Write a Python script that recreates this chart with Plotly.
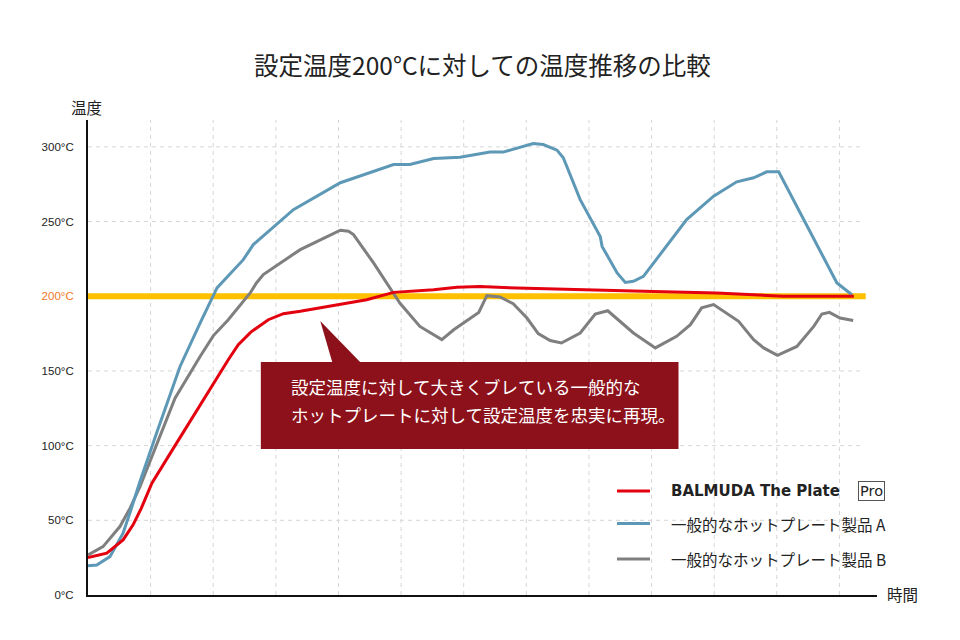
import plotly.graph_objects as go

# ---- data (x in time-grid units, y in °C) ----
red_x = [0, 0.30, 0.56, 0.72, 0.85, 1.02, 1.36, 1.90, 2.24, 2.40, 2.60, 2.88, 3.12, 3.39, 4.03, 4.45, 4.88, 5.52, 5.89, 6.26, 6.85, 7.38, 8.18, 8.87, 10.04, 11.1, 12.23]
red_y = [25, 28, 36.9, 47, 58, 74.9, 98, 135, 157.5, 167.6, 176, 184.3, 188.3, 190, 194.4, 197.7, 202.6, 204.4, 206, 206.6, 205.5, 204.9, 203.8, 203.3, 202.2, 200, 200]

blue_x = [0, 0.14, 0.35, 0.56, 0.67, 0.83, 1.10, 1.47, 1.79, 2.06, 2.48, 2.64, 3.28, 4.03, 4.88, 5.14, 5.52, 5.94, 6.42, 6.63, 7.11, 7.27, 7.49, 7.59, 7.86, 8.18, 8.21, 8.45, 8.58, 8.71, 8.87, 9.56, 9.99, 10.36, 10.63, 10.84, 11.03, 11.96, 12.2]
blue_y = [19.6, 20.1, 25.7, 41.4, 55, 76, 109, 153, 182, 205.6, 224.5, 234.6, 258, 276, 288.2, 288.2, 292.2, 293.1, 296.5, 296.5, 302.3, 301.6, 297.8, 292.7, 264.7, 240, 233.4, 215.6, 209.3, 210, 213.3, 251.3, 267, 276.6, 279.3, 283.3, 283.3, 208.9, 201]

gray_x = [0, 0.24, 0.51, 0.67, 0.83, 1.39, 1.79, 2.0, 2.24, 2.59, 2.69, 2.80, 3.15, 3.39, 3.81, 4.03, 4.16, 4.24, 4.56, 4.98, 5.30, 5.65, 5.84, 6.24, 6.37, 6.58, 6.79, 7.01, 7.19, 7.38, 7.56, 7.86, 8.10, 8.30, 8.71, 9.06, 9.40, 9.62, 9.80, 9.99, 10.39, 10.63, 10.79, 11.01, 11.32, 11.59, 11.72, 11.84, 12.01, 12.22]
gray_y = [26.8, 32.4, 45.8, 58, 72.6, 131.8, 159.7, 173.5, 184.3, 202.2, 208.9, 214.5, 224.5, 231.2, 239.8, 244.2, 243.5, 241.3, 222.3, 195.5, 179.8, 171, 177.6, 189.2, 200.4, 199.5, 195, 185.4, 175, 170.4, 168.7, 175.4, 188.1, 190.3, 175.4, 165.4, 173.2, 181, 192.2, 194.4, 183.2, 170.9, 165.4, 160.4, 166.4, 179.8, 188.1, 189.2, 185.4, 183.8]

setpoint = 200
y_ticks = [0, 50, 100, 150, 200, 250, 300]
x_grid = list(range(1, 13))

names = ["BALMUDA The Plate", "一般的なホットプレート製品 A", "一般的なホットプレート製品 B"]
colors = ["#e3000f", "#5d98b6", "#7f7f7f"]

JP = "Noto Sans CJK JP"
X_MAX = 12.6
Y_MAX = 318
GRID_END = 12.38

fig = go.Figure()

shapes = []
# dashed grid
for gx in x_grid:
    shapes.append(dict(type="line", xref="x", yref="y", x0=gx, x1=gx, y0=0, y1=Y_MAX,
                       line=dict(color="#d6d6d6", width=1, dash="4px,4px"), layer="below"))
for gy in y_ticks[1:]:
    shapes.append(dict(type="line", xref="x", yref="y", x0=0, x1=GRID_END, y0=gy, y1=gy,
                       line=dict(color="#d6d6d6", width=1, dash="4px,4px"), layer="below"))

# setpoint line
fig.add_trace(go.Scatter(x=[0, 12.42], y=[setpoint, setpoint], mode="lines",
                         line=dict(color="#ffc000", width=6), showlegend=False, hoverinfo="skip"))

# series (gray, blue, then red on top)
fig.add_trace(go.Scatter(x=gray_x, y=gray_y, mode="lines", name=names[2],
                         line=dict(color=colors[2], width=3), showlegend=False))
fig.add_trace(go.Scatter(x=blue_x, y=blue_y, mode="lines", name=names[1],
                         line=dict(color=colors[1], width=3), showlegend=False))
fig.add_trace(go.Scatter(x=red_x, y=red_y, mode="lines", name=names[0],
                         line=dict(color=colors[0], width=3), showlegend=False))

# callout box (data coords)
box_col = "#8d111b"
shapes.append(dict(type="rect", xref="x", yref="y", x0=2.76, x1=9.43, y0=97.7, y1=156,
                   fillcolor=box_col, line=dict(width=0), layer="above"))
shapes.append(dict(type="path", xref="x", yref="y",
                   path="M 3.709,183.5 L 3.9,156 L 4.345,156 Z",
                   fillcolor=box_col, line=dict(width=0), layer="above"))

W, H = 960, 640
ml, mr, mt, mb = 88, 83, 120, 45
pw, ph = W - ml - mr, H - mt - mb


def px2paper(px, py):
    return (px - ml) / pw, (H - mb - py) / ph


annotations = []
leg_rows = [491, 523.5, 559]
for i, (nm, col) in enumerate(zip(names, colors)):
    x0, y0 = px2paper(617, leg_rows[i])
    x1, _ = px2paper(650, leg_rows[i])
    shapes.append(dict(type="line", xref="paper", yref="paper", x0=x0, x1=x1, y0=y0, y1=y0,
                       line=dict(color=col, width=3)))
    tx, ty = px2paper(669, leg_rows[i])
    if i == 0:
        annotations.append(dict(xref="paper", yref="paper", x=tx, y=ty, text=nm, showarrow=False,
                                xanchor="left", yanchor="middle",
                                font=dict(family="DejaVu Sans", size=15, color="#222222", weight="bold")))
        px_, py_ = px2paper(871, leg_rows[i])
        annotations.append(dict(xref="paper", yref="paper", x=px_, y=py_, text="Pro", showarrow=False,
                                xanchor="center", yanchor="middle",
                                bordercolor="#555555", borderwidth=1, borderpad=1,
                                font=dict(family="DejaVu Sans", size=14.5, color="#222222")))
    else:
        annotations.append(dict(xref="paper", yref="paper", x=tx, y=ty, text=nm, showarrow=False,
                                xanchor="left", yanchor="middle",
                                font=dict(family=JP, size=15.5, color="#222222")))

# callout text
cx, cy1 = px2paper(289, 386)
_, cy2 = px2paper(289, 414)
annotations.append(dict(xref="paper", yref="paper", x=cx, y=cy1, xanchor="left", yanchor="middle",
                        text="設定温度に対して大きくブレている一般的な", showarrow=False,
                        font=dict(family=JP, size=17.5, color="white")))
annotations.append(dict(xref="paper", yref="paper", x=cx, y=cy2, xanchor="left", yanchor="middle",
                        text="ホットプレートに対して設定温度を忠実に再現。", showarrow=False,
                        font=dict(family=JP, size=17.5, color="white")))

# axis titles
ax_, ay_ = px2paper(86, 107)
annotations.append(dict(xref="paper", yref="paper", x=ax_, y=ay_, text="温度", showarrow=False,
                        xanchor="center", yanchor="middle", font=dict(family=JP, size=15.5, color="#222222")))
bx_, by_ = px2paper(903, 594)
annotations.append(dict(xref="paper", yref="paper", x=bx_, y=by_, text="時間", showarrow=False,
                        xanchor="center", yanchor="middle", font=dict(family=JP, size=15.5, color="#222222")))

tick_text = []
for t in y_ticks:
    if t == setpoint:
        tick_text.append(f'<span style="color:#f0781e">{t}°C</span>')
    else:
        tick_text.append(f"{t}°C")

fig.update_layout(
    width=W, height=H,
    margin=dict(l=ml, r=mr, t=mt, b=mb),
    paper_bgcolor="white", plot_bgcolor="white",
    title=dict(text="設定温度200°Cに対しての温度推移の比較", x=0.5, xanchor="center",
               y=1 - 66 / H, yanchor="middle", xref="paper",
               font=dict(family=JP, size=24.5, color="#222222")),
    xaxis=dict(range=[0, X_MAX], showgrid=False, zeroline=False, showticklabels=False,
               showline=True, linecolor="#111111", linewidth=2, fixedrange=True),
    yaxis=dict(range=[0, Y_MAX], showgrid=False, zeroline=False, tickvals=y_ticks, ticktext=tick_text,
               showline=True, linecolor="#111111", linewidth=2, ticks="", ticklabelstandoff=10,
               tickfont=dict(family="Liberation Sans", size=11.5, color="#222222"), fixedrange=True),
    shapes=shapes,
    annotations=annotations,
    showlegend=False,
)

fig.write_html("out.html")
